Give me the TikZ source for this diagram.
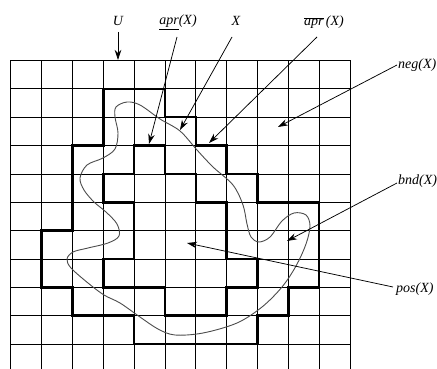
\documentclass[tikz,border=0pt]{standalone}
\usepackage{fontspec}
\setmainfont{Liberation Serif}
\usetikzlibrary{arrows.meta}
\begin{document}
\begin{tikzpicture}[x=1pt,y=-1pt,
  gridline/.style={line width=0.8pt, black},
  approx/.style={line width=2.5pt, black, line join=miter, line cap=rect},
  curveX/.style={line width=0.9pt, black!70},
  arr/.style={line width=0.75pt, black, -{Stealth[length=10pt,width=6.5pt]}},
  lbl/.style={font=\fontsize{14}{16}\selectfont\itshape, inner sep=0pt, anchor=base}]
\useasboundingbox (0,0) rectangle (437,369);
\begin{scope}[shift={(10.7,60.5)}, x=30.85pt, y=-28.35pt]
  \foreach \c in {0,...,11} \draw[gridline] (\c,0) -- (\c,10.9);
  \foreach \r in {0,...,10} \draw[gridline] (0,\r) -- (11,\r);
  % upper approximation
  \draw[approx] (3,1) -- (5,1) -- (5,2) -- (6,2) -- (6,3) -- (7,3) -- (7,4) -- (8,4)
    -- (8,5) -- (10,5) -- (10,8) -- (9,8) -- (9,9) -- (8,9) -- (8,10) -- (4,10)
    -- (4,9) -- (2,9) -- (2,8) -- (1,8) -- (1,6) -- (2,6) -- (2,3) -- (3,3) -- cycle;
  % lower approximation
  \draw[approx] (4,3) -- (5,3) -- (5,4) -- (6,4) -- (6,5) -- (7,5) -- (7,7) -- (8,7)
    -- (8,8) -- (7,8) -- (7,9) -- (5,9) -- (5,8) -- (3,8) -- (3,7) -- (4,7) -- (4,5)
    -- (3,5) -- (3,4) -- (4,4) -- cycle;
\end{scope}
% the set X
\draw[curveX] plot[smooth cycle, tension=0.55] coordinates {
  (127,102) (140,105) (160,119) (180,131) (197,150) (213,167) (233,185) (243,205)
  (247,224) (251,237) (259,242) (270,237) (282,221) (294,213) (306,215) (310,226)
  (306,244) (296,266) (282,287) (262,307) (237,323) (203,333) (175,335) (158,329)
  (140,317) (120,303) (104,295) (88,283) (71,268) (67,259) (73,252) (88,248)
  (108,243) (119,236) (117,224) (106,212) (94,202) (84,190) (80,178) (87,165)
  (103,158) (115,149) (118,133) (115,117) (116,107)};
% labels
\node[lbl] (U) at (118,26) {U};
\node[lbl] (aprl) at (178,25) {\underline{apr}(X)};
\node[lbl] (X) at (236,26) {X};
\node[lbl] (apru) at (324,26) {$\overline{\mbox{\itshape apr}}$\,(X)};
\node[lbl, anchor=base west] (neg) at (398,69) {neg(X)};
\node[lbl, anchor=base west] (bnd) at (398,184) {bnd(X)};
\node[lbl, anchor=base west] (pos) at (396,292) {pos(X)};
% arrow targets
\coordinate (tU) at (118,60);
\coordinate (taprl) at (149,144);
\coordinate (tX) at (180,130);
\coordinate (tapru) at (209,143);
\coordinate (tneg) at (278,127);
\coordinate (tbnd) at (287,241);
\coordinate (tpos) at (187,243);
% arrows
\draw[arr] ([yshift=-6pt]U.base) -- (tU);
\draw[arr] ([xshift=-1pt,yshift=-12pt]aprl.base) -- (taprl);
\draw[arr] ([xshift=-4pt,yshift=-11pt]X.base) -- (tX);
\draw[arr] ([xshift=-7pt,yshift=-11pt]apru.base) -- (tapru);
\draw[arr] ([xshift=-1pt,yshift=4pt]neg.base west) -- (tneg);
\draw[arr] ([xshift=-1pt,yshift=1pt]bnd.base west) -- (tbnd);
\draw[arr] ([xshift=-3pt,yshift=5pt]pos.base west) -- (tpos);
\end{tikzpicture}
\end{document}
